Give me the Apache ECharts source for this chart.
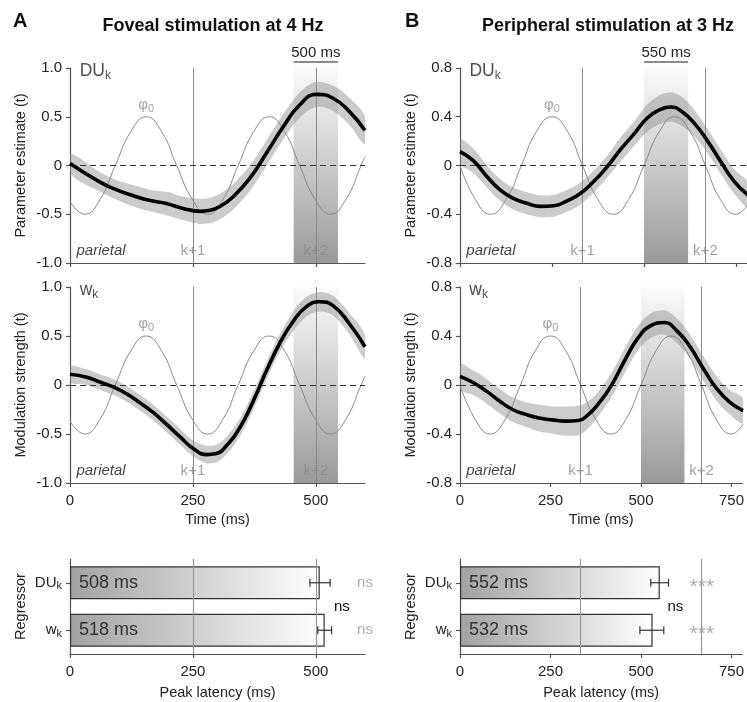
<!DOCTYPE html>
<html>
<head>
<meta charset="utf-8">
<script src="https://cdn.jsdelivr.net/npm/echarts@6.0.0/dist/echarts.min.js"></script>
<style>
html,body{margin:0;padding:0;background:#fff;overflow:hidden;}
#chart{width:747px;height:702px;}
</style>
</head>
<body>
<div id="chart"></div>
<script>
// ================= DATA =================
const titleA = 'Foveal stimulation at 4 Hz';
const titleB = 'Peripheral stimulation at 3 Hz';
const xTicksA = [0, 250, 500];
const xTicksB = [0, 250, 500, 750];
const kLinesA = [250, 500];
const kLinesB = [333, 667];
const kLabels = ['k+1', 'k+2'];
const windowA = [455, 545];
const windowB = [500, 620];
const windowLabelA = '500 ms';
const windowLabelB = '550 ms';

// Panel A, DU_k (parameter estimate)
const duA_t  = [0, 61, 95, 129, 163, 196, 230, 264, 285, 305, 332, 366, 400, 434, 467, 501, 535, 569, 600];
const duA_v  = [0.02, -0.17, -0.25, -0.31, -0.36, -0.39, -0.44, -0.47, -0.46, -0.42, -0.32, -0.13, 0.13, 0.40, 0.62, 0.73, 0.69, 0.55, 0.36];
const duA_ci = [0.10, 0.10, 0.10, 0.11, 0.11, 0.12, 0.12, 0.13, 0.13, 0.13, 0.13, 0.13, 0.13, 0.13, 0.13, 0.13, 0.13, 0.14, 0.14];
// Panel A, w_k (modulation strength)
const wA_t  = [0, 34, 61, 88, 115, 142, 169, 196, 224, 251, 278, 298, 318, 346, 373, 400, 427, 454, 481, 508, 535, 569, 600];
const wA_v  = [0.11, 0.08, 0.03, -0.02, -0.09, -0.18, -0.28, -0.40, -0.53, -0.65, -0.71, -0.70, -0.62, -0.43, -0.16, 0.15, 0.43, 0.65, 0.80, 0.85, 0.81, 0.62, 0.39];
const wA_ci = [0.08, 0.08, 0.08, 0.08, 0.08, 0.08, 0.08, 0.08, 0.08, 0.08, 0.09, 0.09, 0.09, 0.09, 0.09, 0.09, 0.09, 0.10, 0.10, 0.10, 0.10, 0.11, 0.12];
// Panel A, phase regressor phi_0 (4 Hz)
const phiA_t = [0, 30, 61, 92, 124, 155, 186, 217, 249, 280, 311, 342, 374, 405, 436, 467, 499, 530, 561, 592, 600];
const phiA_v = [-0.37, -0.5, -0.35, 0, 0.35, 0.5, 0.35, 0, -0.35, -0.5, -0.35, 0, 0.35, 0.5, 0.35, 0, -0.35, -0.5, -0.35, 0, 0.09];

// Panel B, DU_k
const duB_t  = [0, 36, 73, 109, 145, 182, 218, 255, 291, 327, 364, 400, 436, 473, 509, 545, 573, 600, 636, 673, 709, 745, 782];
const duB_v  = [0.114, 0.04, -0.09, -0.2, -0.27, -0.31, -0.335, -0.33, -0.29, -0.23, -0.13, -0.01, 0.13, 0.26, 0.39, 0.46, 0.48, 0.45, 0.35, 0.2, 0.03, -0.13, -0.24];
const duB_ci = [0.10, 0.10, 0.09, 0.09, 0.09, 0.09, 0.09, 0.09, 0.09, 0.09, 0.09, 0.09, 0.10, 0.10, 0.11, 0.12, 0.12, 0.12, 0.11, 0.10, 0.10, 0.10, 0.10];
// Panel B, w_k
const wB_t  = [0, 36, 73, 109, 145, 182, 218, 255, 291, 327, 355, 382, 418, 455, 491, 527, 564, 600, 636, 673, 709, 745, 782];
const wB_v  = [0.07, 0.02, -0.05, -0.13, -0.2, -0.24, -0.27, -0.285, -0.295, -0.29, -0.24, -0.155, -0.005, 0.2, 0.38, 0.485, 0.51, 0.44, 0.31, 0.13, -0.03, -0.14, -0.21];
const wB_ci = [0.10, 0.10, 0.10, 0.10, 0.10, 0.10, 0.11, 0.11, 0.12, 0.12, 0.11, 0.10, 0.10, 0.10, 0.10, 0.10, 0.10, 0.10, 0.10, 0.10, 0.10, 0.10, 0.10];
// Panel B, phi_0 (3 Hz)
const phiB_t = [0, 42, 83, 125, 167, 208, 250, 292, 333, 375, 417, 458, 500, 542, 583, 625, 667, 708, 750, 782];
const phiB_v = [0, -0.28, -0.4, -0.28, 0, 0.28, 0.4, 0.28, 0, -0.28, -0.4, -0.28, 0, 0.28, 0.4, 0.28, 0, -0.28, -0.4, -0.32];

// Peak latency bars
const regressors = ['DUk', 'wk'];
const peakA = [508, 518];
const errLoA = [488, 504];
const errHiA = [529, 532];
const peakB = [552, 532];
const errLoB = [527, 497];
const errHiB = [576, 563];
const sigA = ['ns', 'ns'];
const sigB = ['***', '***'];
const sigBetween = 'ns';

// ================= CHART =================
const FONT = "'Liberation Sans', Arial, Helvetica, sans-serif";
const AX = '#555';
const GRAY = '#8a8a8a';
const chart = echarts.init(document.getElementById('chart'), null, {renderer: 'canvas'});

const pairs = (t, v) => t.map((x, i) => [x, v[i]]);
const subRich = (mSize, sSize, color) => ({
  m: {fontSize: mSize, color: color, fontFamily: FONT, lineHeight: mSize + 3},
  s: {fontSize: sSize, color: color, fontFamily: FONT, lineHeight: sSize, verticalAlign: 'bottom'}
});
const regText = r => r === 'DUk' ? '{m|DU}{s|k}' : '{m|w}{s|k}';

const grids = [
  {left: 70, top: 68, width: 295, height: 195},
  {left: 70, top: 287, width: 295, height: 196},
  {left: 460, top: 68, width: 287, height: 195},
  {left: 460, top: 287, width: 287, height: 196},
  {left: 70, top: 559, width: 295, height: 95},
  {left: 460, top: 559, width: 287, height: 95}
];

function xAx(g, max, ticks, showLabels, name) {
  return {
    type: 'value', gridIndex: g, min: 0, max: max, interval: 250,
    axisLine: {show: true, onZero: false, lineStyle: {color: AX, width: 1.2}},
    axisTick: {show: true, length: 4, customValues: ticks, lineStyle: {color: AX, width: 1.2}},
    axisLabel: {show: showLabels, customValues: ticks, margin: 10, fontSize: 15, color: '#222', fontFamily: FONT},
    splitLine: {show: false},
    name: name || '', nameLocation: 'middle', nameGap: 29,
    nameTextStyle: {fontSize: 14.5, color: '#222', fontFamily: FONT}
  };
}
function yAx(g, lim, step, name) {
  return {
    type: 'value', gridIndex: g, min: -lim, max: lim, interval: step,
    axisLine: {show: true, onZero: false, lineStyle: {color: AX, width: 1.2}},
    axisTick: {show: true, length: 4, lineStyle: {color: AX, width: 1.2}},
    axisLabel: {margin: 8, fontSize: 15, color: '#222', fontFamily: FONT,
      formatter: v => Math.abs(v) < 1e-9 ? '0' : v.toFixed(1)},
    splitLine: {show: false},
    name: name, nameLocation: 'middle', nameGap: 42,
    nameTextStyle: {fontSize: 14.5, color: '#222', fontFamily: FONT}
  };
}
function yCat(g) {
  return {
    type: 'category', gridIndex: g, data: regressors, inverse: true,
    axisLine: {show: true, onZero: false, lineStyle: {color: AX, width: 1.2}},
    axisTick: {show: true, length: 4, alignWithLabel: true, lineStyle: {color: AX, width: 1.2}},
    axisLabel: {margin: 8, formatter: regText, rich: subRich(15, 11, '#222')},
    splitLine: {show: false},
    name: 'Regressor', nameLocation: 'middle', nameGap: 42,
    nameTextStyle: {fontSize: 14.5, color: '#222', fontFamily: FONT}
  };
}

const winGrad = {type: 'linear', x: 0, y: 0, x2: 0, y2: 1,
  colorStops: [{offset: 0, color: '#fbfbfb'}, {offset: 1, color: '#999999'}]};

function bandSeries(g, t, v, ci) {
  const rows = t.map((x, i) => [x, +(v[i] - ci[i]).toFixed(4), +(v[i] + ci[i]).toFixed(4)]);
  return {
    type: 'custom', xAxisIndex: g, yAxisIndex: g, data: rows, encode: {x: 0, y: [1, 2]},
    clip: true, silent: true, z: 3,
    renderItem: (params, api) => {
      if (params.dataIndex !== 0) return null;
      const top = rows.map(r => api.coord([r[0], r[2]]));
      const bot = rows.map(r => api.coord([r[0], r[1]])).reverse();
      const pts = top.concat(bot);
      let x0 = Infinity, x1 = -Infinity, y0 = Infinity, y1 = -Infinity;
      pts.forEach(p => { x0 = Math.min(x0, p[0]); x1 = Math.max(x1, p[0]); y0 = Math.min(y0, p[1]); y1 = Math.max(y1, p[1]); });
      return {type: 'polygon', shape: {points: pts, smooth: 0.35, smoothConstraint: [[x0, y0], [x1, y1]]},
        style: {fill: 'rgba(140,140,140,0.45)'}};
    }
  };
}

function panelSeries(g, t, v, ci, phT, phV, kLines, win, labelMain, lim, tMax, phiX) {
  const ly = -lim * 0.88;
  const ann = [
    {value: [tMax * 0.033, lim * 0.965], label: {formatter: labelMain, align: 'left', rich: subRich(17.5, 12, '#222')}},
    {value: [phiX, lim * 0.62], label: {formatter: '{m|φ}{s|0}', rich: subRich(15, 11, GRAY)}},
    {value: [tMax * 0.022, ly], label: {formatter: 'parietal', align: 'left', fontStyle: 'italic', fontSize: 15, color: '#111', fontFamily: FONT}},
    {value: [kLines[0], ly], label: {formatter: kLabels[0], fontSize: 15, color: GRAY, fontFamily: FONT}},
    {value: [kLines[1], ly], label: {formatter: kLabels[1], fontSize: 15, color: GRAY, fontFamily: FONT}}
  ];
  return [
    {type: 'line', xAxisIndex: g, yAxisIndex: g, data: pairs(t, v), symbol: 'none',
     lineStyle: {opacity: 0}, silent: true, z: 1,
     markArea: {silent: true, itemStyle: {color: winGrad}, data: [[{xAxis: win[0]}, {xAxis: win[1]}]]}},
    bandSeries(g, t, v, ci),
    {type: 'line', xAxisIndex: g, yAxisIndex: g, data: pairs(phT, phV), smooth: true, symbol: 'none',
     silent: true, z: 4, lineStyle: {color: GRAY, width: 1},
     markLine: {silent: true, symbol: 'none', label: {show: false},
       data: kLines.map(k => ({xAxis: k, lineStyle: {color: GRAY, width: 1, type: 'solid'}}))
         .concat([{yAxis: 0, lineStyle: {color: '#333', width: 1.1, type: [6, 4]}}])}},
    {type: 'line', xAxisIndex: g, yAxisIndex: g, data: pairs(t, v), smooth: true, symbol: 'none',
     silent: true, z: 6, lineStyle: {color: '#000', width: 3.6}},
    {type: 'scatter', xAxisIndex: g, yAxisIndex: g, symbolSize: 0, silent: true, clip: false, z: 10,
     label: {show: true, position: 'inside'}, data: ann}
  ];
}

const barGrad = {type: 'linear', x: 0, y: 0, x2: 1, y2: 0,
  colorStops: [{offset: 0, color: '#a2a2a2'}, {offset: 1, color: '#ffffff'}]};

function barSeries(g, peaks, lo, hi, kLines, sig, sigX, sigSize, sigOffset) {
  return [
    {type: 'bar', xAxisIndex: g, yAxisIndex: g, data: peaks, barWidth: 33, z: 2,
     itemStyle: {color: barGrad, borderColor: '#333', borderWidth: 1.2},
     label: {show: true, position: 'insideLeft', distance: 9, formatter: p => p.value + ' ms',
       fontSize: 18, color: '#333', fontFamily: FONT}},
    {type: 'custom', xAxisIndex: g, yAxisIndex: g, z: 5, silent: true,
     data: peaks.map((p, i) => [i, lo[i], hi[i]]),
     encode: {x: [1, 2], y: 0},
     renderItem: (params, api) => {
       const c = api.value(0);
       const a = api.coord([api.value(1), c]);
       const b = api.coord([api.value(2), c]);
       const h = 4, st = {stroke: '#333', lineWidth: 1.2};
       return {type: 'group', children: [
         {type: 'line', shape: {x1: a[0], y1: a[1], x2: b[0], y2: b[1]}, style: st},
         {type: 'line', shape: {x1: a[0], y1: a[1] - h, x2: a[0], y2: a[1] + h}, style: st},
         {type: 'line', shape: {x1: b[0], y1: b[1] - h, x2: b[0], y2: b[1] + h}, style: st}
       ]};
     },
     markLine: {silent: true, symbol: 'none', label: {show: false},
       lineStyle: {color: '#999', width: 1.2, type: 'solid'},
       data: kLines.map(k => ({xAxis: k}))}},
    {type: 'scatter', xAxisIndex: g, yAxisIndex: g, symbolSize: 0, silent: true, clip: false, z: 10,
     label: {show: true, position: 'inside', offset: [0, sigOffset], fontSize: sigSize, color: '#999', fontFamily: FONT,
       formatter: p => sig[p.dataIndex]},
     data: sig.map((s, i) => [sigX, i])}
  ];
}

const option = {
  animation: false,
  backgroundColor: '#fff',
  textStyle: {fontFamily: FONT},
  title: [
    {text: 'A', left: 8, top: 6, textStyle: {fontSize: 20, fontWeight: 'bold', color: '#111', fontFamily: FONT}},
    {text: titleA, left: 208, top: 12, textAlign: 'center', textStyle: {fontSize: 18, fontWeight: 'bold', color: '#111', fontFamily: FONT}},
    {text: 'B', left: 400, top: 6, textStyle: {fontSize: 20, fontWeight: 'bold', color: '#111', fontFamily: FONT}},
    {text: titleB, left: 603, top: 12, textAlign: 'center', textStyle: {fontSize: 18, fontWeight: 'bold', color: '#111', fontFamily: FONT}}
  ],
  grid: grids,
  xAxis: [
    xAx(0, 600, xTicksA, false),
    xAx(1, 600, xTicksA, true, 'Time (ms)'),
    xAx(2, 780, xTicksB, false),
    xAx(3, 780, xTicksB, true, 'Time (ms)'),
    Object.assign(xAx(4, 600, xTicksA, true, 'Peak latency (ms)'), {nameGap: 31}),
    Object.assign(xAx(5, 780, xTicksB, true, 'Peak latency (ms)'), {nameGap: 31})
  ],
  yAxis: [
    yAx(0, 1, 0.5, 'Parameter estimate (t)'),
    yAx(1, 1, 0.5, 'Modulation strength (t)'),
    yAx(2, 0.8, 0.4, 'Parameter estimate (t)'),
    yAx(3, 0.8, 0.4, 'Modulation strength (t)'),
    yCat(4),
    yCat(5)
  ],
  series: [].concat(
    panelSeries(0, duA_t, duA_v, duA_ci, phiA_t, phiA_v, kLinesA, windowA, '{m|DU}{s|k}', 1, 600, 155),
    panelSeries(1, wA_t, wA_v, wA_ci, phiA_t, phiA_v, kLinesA, windowA, '{m|w}{s|k}', 1, 600, 155),
    panelSeries(2, duB_t, duB_v, duB_ci, phiB_t, phiB_v, kLinesB, windowB, '{m|DU}{s|k}', 0.8, 780, 250),
    panelSeries(3, wB_t, wB_v, wB_ci, phiB_t, phiB_v, kLinesB, windowB, '{m|w}{s|k}', 0.8, 780, 250),
    barSeries(4, peakA, errLoA, errHiA, kLinesA, sigA, 600, 15, 0),
    barSeries(5, peakB, errLoB, errHiB, kLinesB, sigB, 668, 21, 4)
  )
};
chart.setOption(option);

// Window scale bars above the top panels and the between-bar significance labels
function windowMarks(g, win, label) {
  const p1 = chart.convertToPixel({gridIndex: g}, [win[0], 0]);
  const p2 = chart.convertToPixel({gridIndex: g}, [win[1], 0]);
  const top = grids[g].top;
  return [
    {type: 'line', shape: {x1: p1[0], y1: top - 6, x2: p2[0], y2: top - 6}, style: {stroke: '#666', lineWidth: 1.5}, z: 20},
    {type: 'text', x: (p1[0] + p2[0]) / 2, y: top - 15, z: 20,
     style: {text: label, fill: '#222', font: '15px ' + FONT, textAlign: 'center', textVerticalAlign: 'middle', align: 'center', verticalAlign: 'middle'}}
  ];
}
function betweenMark(g, t) {
  const a = chart.convertToPixel({gridIndex: g}, [t, 0]);
  const b = chart.convertToPixel({gridIndex: g}, [t, 1]);
  return {type: 'text', x: a[0], y: (a[1] + b[1]) / 2, z: 20,
    style: {text: sigBetween, fill: '#111', font: '15px ' + FONT, textAlign: 'center', textVerticalAlign: 'middle', align: 'center', verticalAlign: 'middle'}};
}
chart.setOption({
  graphic: [].concat(
    windowMarks(0, windowA, windowLabelA),
    windowMarks(2, windowB, windowLabelB),
    [betweenMark(4, 553), betweenMark(5, 595)]
  )
});
</script>
</body>
</html>
